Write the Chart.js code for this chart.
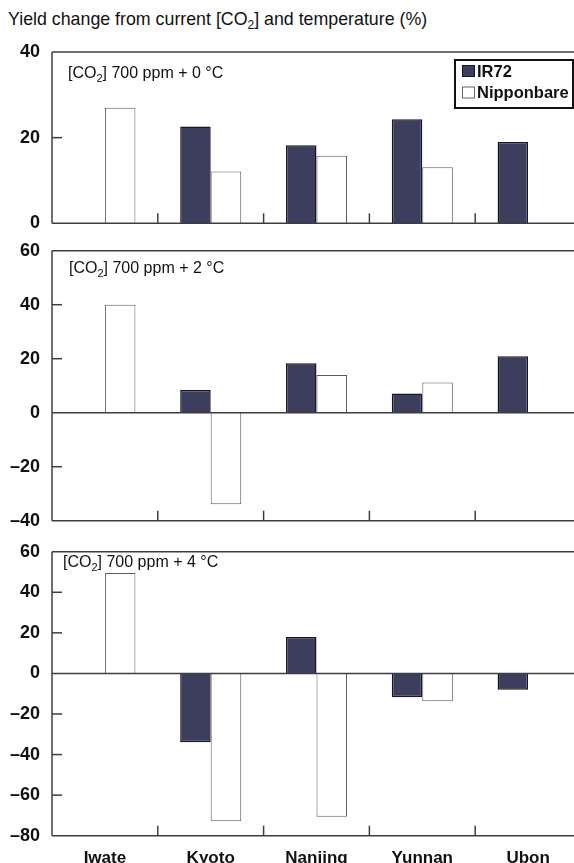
<!DOCTYPE html>
<html>
<head>
<meta charset="utf-8">
<script src="https://cdn.jsdelivr.net/npm/chart.js@4.4.1/dist/chart.umd.min.js"></script>
<style>
  html, body { margin: 0; padding: 0; width: 574px; height: 863px; overflow: hidden; background: #fff; }
  #title { position: absolute; left: 8px; top: 9px; font: 17.8px "Liberation Sans", Arial, sans-serif; color: #111; white-space: nowrap; }
  #title sub { font-size: 12px; vertical-align: -4px; line-height: 0; }
  canvas { position: absolute; left: 0; }
</style>
</head>
<body>
<div id="title">Yield change from current [CO<sub>2</sub>] and temperature (%)</div>
<canvas id="c1" width="581" height="200" style="top:40px"></canvas>
<canvas id="c2" width="581" height="300" style="top:236px"></canvas>
<canvas id="c3" width="581" height="343" style="top:537px"></canvas>
<script>
const sites = ['Iwate', 'Kyoto', 'Nanjing', 'Yunnan', 'Ubon'];
const seriesNames = ['IR72', 'Nipponbare'];

// yield change (%), null = no bar for that cultivar
const ir72_plus0 = [null, 22.6, 18.2, 24.3, 19.0];
const nipp_plus0 = [27.0, 12.1, 15.8, 13.1, null];
const ir72_plus2 = [null, 8.4, 18.3, 7.1, 20.9];
const nipp_plus2 = [40.0, -33.9, 14.0, 11.2, null];
const ir72_plus4 = [null, -33.9, 18.0, -11.7, -8.0];
const nipp_plus4 = [49.5, -72.9, -70.7, -13.7, null];

const panelTemps = ['0', '2', '4'];
const yRanges = [[0, 40], [-40, 60], [-80, 60]];

const FONT = '"Liberation Sans", Arial, sans-serif';
const darkFill = '#3d3e5e';
const darkEdge = '#16162a';
const lineCol = '#3c3c46';

function co2Label(ctx, x, y, rest) {
  ctx.fillStyle = '#111';
  ctx.textBaseline = 'alphabetic';
  ctx.textAlign = 'left';
  ctx.font = '16px ' + FONT;
  ctx.fillText('[CO', x, y);
  x += ctx.measureText('[CO').width;
  ctx.font = '11px ' + FONT;
  ctx.fillText('2', x, y + 4);
  x += ctx.measureText('2').width;
  ctx.font = '16px ' + FONT;
  ctx.fillText(rest, x, y);
}

const framePlugin = {
  id: 'frame',
  afterDatasetsDraw(chart, args, opts) {
    const {ctx, chartArea: a, scales: {x, y}} = chart;
    const W = chart.width;
    ctx.save();
    ctx.strokeStyle = lineCol;
    ctx.lineWidth = 1.5;
    // top, bottom and zero lines run out to the page edge
    const rows = [a.top, a.bottom];
    if (y.min < 0) rows.push(y.getPixelForValue(0));
    rows.forEach(py => {
      ctx.beginPath(); ctx.moveTo(a.left, py); ctx.lineTo(W, py); ctx.stroke();
    });
    ctx.beginPath(); ctx.moveTo(a.left, a.top); ctx.lineTo(a.left, a.bottom); ctx.stroke();

    // small inward ticks on the y axis
    y.ticks.forEach(t => {
      if (t.value === y.min || t.value === y.max || t.value === 0) return;
      const py = y.getPixelForValue(t.value);
      ctx.beginPath(); ctx.moveTo(a.left, py); ctx.lineTo(a.left + 10, py); ctx.stroke();
    });
    // ticks between sites, rising from the bottom line
    for (let i = 0; i < sites.length - 1; i++) {
      const px = (x.getPixelForValue(i) + x.getPixelForValue(i + 1)) / 2;
      ctx.beginPath(); ctx.moveTo(px, a.bottom); ctx.lineTo(px, a.bottom - 10); ctx.stroke();
    }

    co2Label(ctx, opts.labelX, a.top + opts.labelDy, '] 700 ppm + ' + opts.temp + ' °C');

    if (opts.legend) {
      const bx = 455, bw = 118, by = a.top + 8, bh = 48;
      ctx.lineWidth = 2;
      ctx.strokeStyle = '#111';
      ctx.strokeRect(bx, by, bw, bh);
      chart.data.datasets.forEach((ds, i) => {
        const sy = by + 5 + i * 21.5;
        ctx.fillStyle = ds.backgroundColor;
        ctx.fillRect(bx + 7, sy, 13, 12);
        ctx.lineWidth = 1;
        ctx.strokeStyle = i === 0 ? darkEdge : '#666';
        ctx.strokeRect(bx + 7.5, sy + 0.5, 12, 11);
        ctx.fillStyle = '#111';
        ctx.font = 'bold 16.5px ' + FONT;
        ctx.textBaseline = 'middle';
        ctx.fillText(ds.label, bx + 22, sy + 7);
      });
    }
    ctx.restore();
  }
};

function makePanel(id, ir, nip, k, cfg) {
  return new Chart(document.getElementById(id), {
    type: 'bar',
    data: {
      labels: sites,
      datasets: [
        {label: seriesNames[0], data: ir, backgroundColor: darkFill, borderColor: darkEdge, borderWidth: 1.5},
        {label: seriesNames[1], data: nip, backgroundColor: '#ffffff', borderColor: '#5a5a66', borderWidth: 1}
      ]
    },
    options: {
      responsive: false,
      animation: false,
      layout: {padding: {top: cfg.padTop, bottom: cfg.padBottom, left: 0, right: 0}},
      datasets: {bar: {categoryPercentage: 0.577, barPercentage: 1}},
      plugins: {
        legend: {display: false},
        tooltip: {enabled: false},
        frame: {temp: panelTemps[k], labelX: cfg.labelX, labelDy: cfg.labelDy, legend: k === 0}
      },
      scales: {
        x: {
          display: cfg.showX,
          grid: {display: false, drawTicks: false},
          border: {display: false},
          ticks: {color: '#111', font: {family: FONT, size: 17, weight: 'bold'}, padding: 12},
          afterFit(s) {
            if (cfg.showX) s.height = 44.3;
            s.paddingLeft = 0; s.paddingRight = 0;
          }
        },
        y: {
          min: yRanges[k][0],
          max: yRanges[k][1],
          grid: {display: false, drawTicks: false},
          border: {display: false},
          ticks: {
            stepSize: 20,
            color: '#111',
            padding: 12,
            font: {family: FONT, size: 18, weight: 'bold'},
            callback: v => String(v).replace('-', '–')
          },
          afterFit(s) {
            s.width = 52;
            s.paddingTop = 0; s.paddingBottom = 0;
          }
        }
      }
    },
    plugins: [framePlugin]
  });
}

makePanel('c1', ir72_plus0, nipp_plus0, 0, {padTop: 12, padBottom: 16.7, showX: false, labelX: 68, labelDy: 25.5});
makePanel('c2', ir72_plus2, nipp_plus2, 1, {padTop: 14.7, padBottom: 15.3, showX: false, labelX: 69, labelDy: 22});
makePanel('c3', ir72_plus4, nipp_plus4, 2, {padTop: 14.7, padBottom: 0, showX: true, labelX: 63, labelDy: 15});
</script>
</body>
</html>
